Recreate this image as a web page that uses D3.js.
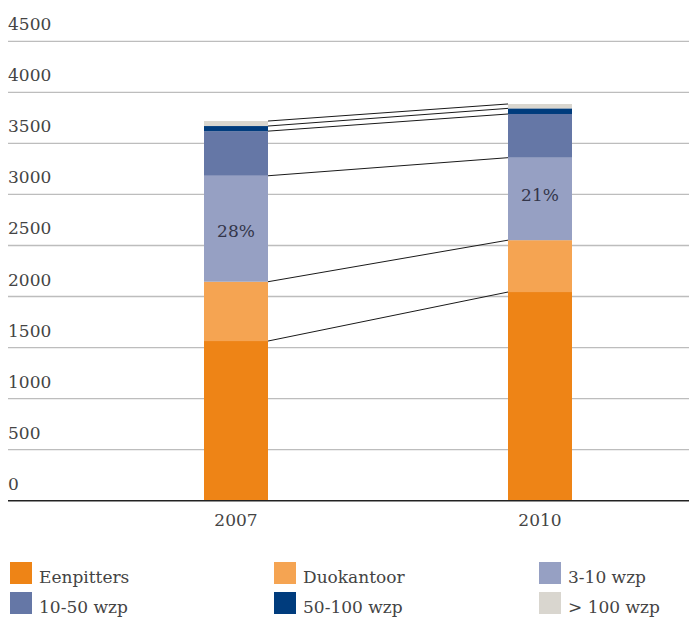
<!DOCTYPE html>
<html>
<head>
<meta charset="utf-8">
<script src="https://cdn.jsdelivr.net/npm/d3@7"></script>
<style>
  html, body { margin: 0; padding: 0; background: #fff; }
  svg { display: block; }
  text { font-family: "DejaVu Serif", serif; }
</style>
</head>
<body>
<svg id="chart" width="689" height="617"></svg>
<script>
// ---- data ----
const years = ["2007", "2010"];
const seriesNames = ["Eenpitters", "Duokantoor", "3-10 wzp", "10-50 wzp", "50-100 wzp", "> 100 wzp"];
const eenpitters = [1564, 2044];
const duokantoor = [581, 508];
const wzp3_10 = [1038, 808];
const wzp10_50 = [437, 428];
const wzp50_100 = [50, 55];
const wzp100plus = [49, 43];
const pctLabels = ["28%", "21%"];
const yTicks = [0, 500, 1000, 1500, 2000, 2500, 3000, 3500, 4000, 4500];
const colors = ["#EE8416", "#F5A452", "#96A0C3", "#6577A6", "#003C7D", "#D9D6CF"];

const seriesValues = [eenpitters, duokantoor, wzp3_10, wzp10_50, wzp50_100, wzp100plus];
const table = years.map((yr, i) => {
  const row = { year: yr };
  seriesNames.forEach((s, k) => row[s] = seriesValues[k][i]);
  return row;
});
const stacked = d3.stack().keys(seriesNames)(table);

// ---- layout ----
const svg = d3.select("#chart");
const gridLeft = 8, gridRight = 689;
const y = d3.scaleLinear().domain([0, 4500]).range([500.7, 41.3]);
const x = d3.scalePoint().domain(years).range([236, 540]);
const barW = 64;
const color = d3.scaleOrdinal().domain(seriesNames).range(colors);

// gridlines + tick labels
const grid = svg.append("g");
grid.selectAll("line").data(yTicks.filter(t => t !== 0)).join("line")
  .attr("x1", gridLeft).attr("x2", gridRight)
  .attr("y1", d => y(d)).attr("y2", d => y(d))
  .attr("stroke", "#bdbdbd").attr("stroke-width", 1.3);
grid.selectAll("text").data(yTicks).join("text")
  .attr("x", gridLeft).attr("y", d => y(d) - 11)
  .attr("font-size", 17).attr("fill", "#444")
  .text(d => d);

// bars
const layers = svg.append("g").selectAll("g").data(stacked).join("g")
  .attr("fill", d => color(d.key));
layers.selectAll("rect").data(d => d).join("rect")
  .attr("x", d => x(d.data.year) - barW / 2)
  .attr("width", barW)
  .attr("y", d => y(d[1]))
  .attr("height", d => y(d[0]) - y(d[1]));

// connecting lines between bars at top of each segment
svg.append("g").selectAll("line").data(stacked).join("line")
  .attr("x1", x(years[0]) + barW / 2)
  .attr("x2", x(years[1]) - barW / 2)
  .attr("y1", d => y(d[0][1]))
  .attr("y2", d => y(d[1][1]))
  .attr("stroke", "#1a1a1a").attr("stroke-width", 1);

// percentage labels inside 3-10 wzp segment
const seg = stacked[2];
svg.append("g").selectAll("text").data(seg).join("text")
  .attr("x", d => x(d.data.year))
  .attr("y", (d, i) => (y(d[0]) + y(d[1])) / 2 + (i === 0 ? 8 : 2))
  .attr("text-anchor", "middle")
  .attr("font-size", 17).attr("fill", "#33364a")
  .text((d, i) => pctLabels[i]);

// axis baseline
svg.append("line")
  .attr("x1", gridLeft).attr("x2", gridRight)
  .attr("y1", y(0)).attr("y2", y(0))
  .attr("stroke", "#222").attr("stroke-width", 1.5);

// x labels
svg.append("g").selectAll("text").data(years).join("text")
  .attr("x", d => x(d)).attr("y", 526)
  .attr("text-anchor", "middle")
  .attr("font-size", 17).attr("fill", "#444")
  .text(d => d);

// legend
const legX = [10, 274, 539];
const legY = [562, 592];
const leg = svg.append("g").selectAll("g").data(seriesNames).join("g")
  .attr("transform", (d, i) => `translate(${legX[i % 3]},${legY[Math.floor(i / 3)]})`);
leg.append("rect").attr("width", 22).attr("height", 22).attr("fill", d => color(d));
leg.append("text").attr("x", 29).attr("y", 21)
  .attr("font-size", 17).attr("fill", "#444")
  .text(d => d);
</script>
</body>
</html>
